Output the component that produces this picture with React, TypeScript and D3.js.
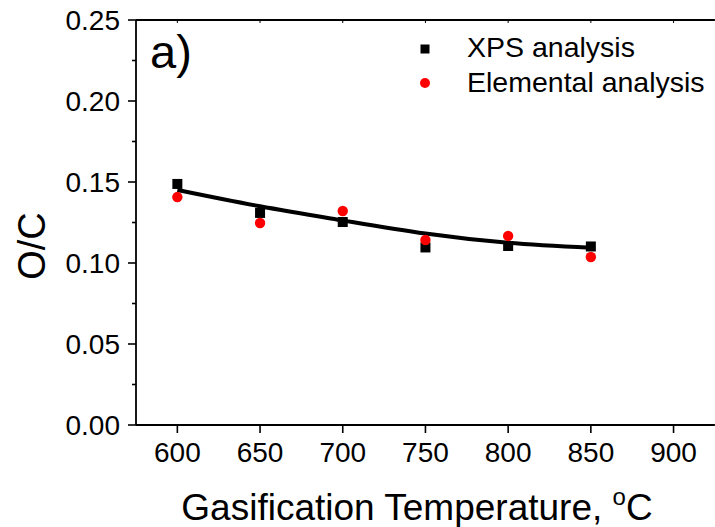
import React from "react";
import * as d3 from "d3";

const temps = [600, 650, 700, 750, 800, 850];
const xpsValues = [0.1488, 0.1309, 0.1253, 0.1096, 0.1105, 0.1102];
const elementalValues = [0.1407, 0.1247, 0.1321, 0.1142, 0.1167, 0.1037];
const fitValues = [0.1451, 0.135, 0.1263, 0.1182, 0.1125, 0.1094];
const xTicks = [600, 650, 700, 750, 800, 850, 900];
const yTicks = [0, 0.05, 0.1, 0.15, 0.2, 0.25];
const yMinorTicks = [0.025, 0.075, 0.125, 0.175, 0.225];
const legendLabels = ["XPS analysis", "Elemental analysis"];

const W = 715;
const H = 527;
const left = 136;
const top = 20;
const bottom = 425;
const FONT = "'Liberation Sans', Arial, Helvetica, sans-serif";

export default function App() {
  const x = d3.scaleLinear().domain([575, 925]).range([left, left + 350 * (82.7 / 50)]);
  const y = d3.scaleLinear().domain([0, 0.25]).range([bottom, top]);
  const fitLine = d3
    .line<number>()
    .x((_, i) => x(temps[i]))
    .y((d) => y(d))
    .curve(d3.curveNatural);
  const right = x(925);

  return (
    <svg
      width={W}
      height={H}
      style={{ position: "absolute", left: 0, top: 0, background: "#fff" }}
      fontFamily={FONT}
    >
      <rect x={0} y={0} width={W} height={H} fill="#fff" />
      {/* axes */}
      <line x1={left} y1={top} x2={left} y2={bottom} stroke="#000" strokeWidth={1.8} />
      <line x1={left} y1={bottom} x2={right} y2={bottom} stroke="#000" strokeWidth={1.8} />
      <line x1={left} y1={top} x2={right} y2={top} stroke="#000" strokeWidth={1.8} />
      {/* y ticks */}
      {yTicks.map((t) => (
        <g key={"y" + t}>
          <line x1={left - 8} x2={left} y1={y(t)} y2={y(t)} stroke="#000" strokeWidth={1.6} />
          <text x={120} y={y(t)} dy="0.36em" textAnchor="end" fontSize={28}>
            {t.toFixed(2)}
          </text>
        </g>
      ))}
      {yMinorTicks.map((t) => (
        <line key={"ym" + t} x1={left - 4} x2={left} y1={y(t)} y2={y(t)} stroke="#000" strokeWidth={1.6} />
      ))}
      {/* x ticks */}
      {xTicks.map((t) => (
        <g key={"x" + t}>
          <line x1={x(t)} x2={x(t)} y1={bottom} y2={bottom + 8} stroke="#000" strokeWidth={1.6} />
          <line x1={x(t)} x2={x(t)} y1={top} y2={top + 3} stroke="#000" strokeWidth={1} />
          <text x={x(t)} y={462} textAnchor="middle" fontSize={28}>
            {t}
          </text>
        </g>
      ))}
      {/* axis titles */}
      <text x={417} y={520} textAnchor="middle" fontSize={37}>
        Gasification Temperature,{" "}
        <tspan fontSize={24} dy={-15}>o</tspan>
        <tspan dy={15}>C</tspan>
      </text>
      <text
        transform={`translate(45, 246) rotate(-90)`}
        textAnchor="middle"
        fontSize={38}
      >
        O/C
      </text>
      {/* panel label */}
      <text x={150} y={68} fontSize={47}>
        a)
      </text>
      {/* fit curve */}
      <path d={fitLine(fitValues) || ""} fill="none" stroke="#000" strokeWidth={4} />
      {/* data */}
      {temps.map((t, i) => (
        <rect
          key={"s" + t}
          x={x(t) - 5}
          y={y(xpsValues[i]) - 5}
          width={10}
          height={10}
          fill="#000"
        />
      ))}
      {temps.map((t, i) => (
        <circle key={"c" + t} cx={x(t)} cy={y(elementalValues[i])} r={5.2} fill="#ff0000" />
      ))}
      {/* legend */}
      <rect x={420.5} y={44.5} width={9} height={9} fill="#000" />
      <text x={467} y={57} fontSize={28.5}>
        {legendLabels[0]}
      </text>
      <circle cx={425} cy={83} r={5} fill="#ff0000" />
      <text x={467} y={92} fontSize={28.5}>
        {legendLabels[1]}
      </text>
    </svg>
  );
}
